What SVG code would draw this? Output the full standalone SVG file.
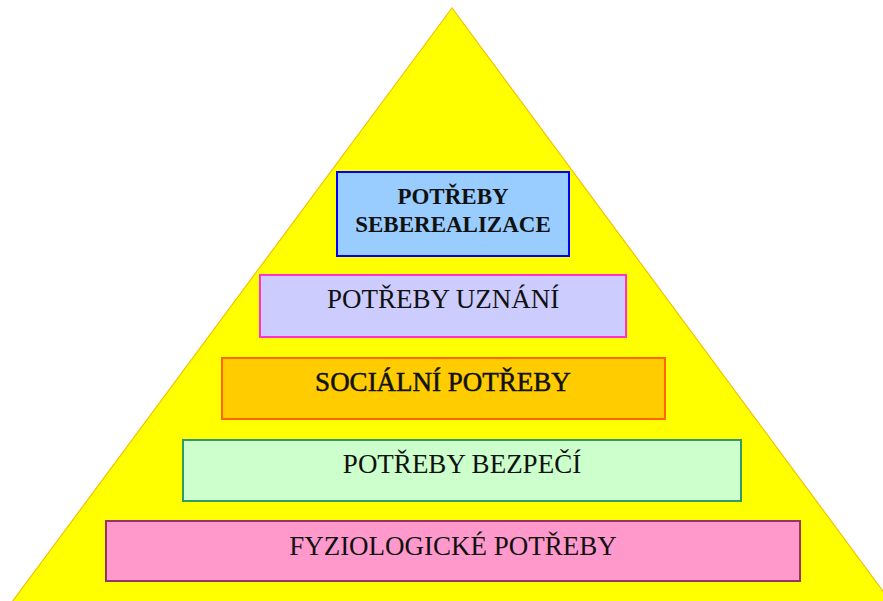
<svg xmlns="http://www.w3.org/2000/svg" width="883" height="601" viewBox="0 0 883 601">
<style>
.t{font-family:"Liberation Serif","Times New Roman",serif;font-size:27px;fill:#111;text-anchor:middle}
.b{font-weight:bold;font-size:23px}
.sb{stroke:#111;stroke-width:0.5}
.box{stroke-width:2}
</style>
<rect x="0" y="0" width="883" height="601" fill="#ffffff"/>
<polygon id="pyramid" points="452,8 12,602 891,602" fill="#ffff00" stroke="#f2c200" stroke-width="1.2"/>
<g id="connectors"></g>
<g id="n1">
<rect class="box" x="337" y="172" width="232" height="84" fill="#99ccff" stroke="#0000ff"/>
<text class="t b" x="453" y="204">POTŘEBY</text>
<text class="t b" x="453" y="232">SEBEREALIZACE</text>
</g>
<g id="n2">
<rect class="box" x="260" y="275" width="366" height="62" fill="#ccccff" stroke="#ff33cc"/>
<text class="t" x="443" y="308">POTŘEBY UZNÁNÍ</text>
</g>
<g id="n3">
<rect class="box" x="222" y="358" width="443" height="61" fill="#ffcc00" stroke="#ff6600"/>
<text class="t sb" x="443" y="391">SOCIÁLNÍ POTŘEBY</text>
</g>
<g id="n4">
<rect class="box" x="183" y="440" width="558" height="61" fill="#ccffcc" stroke="#339966"/>
<text class="t" x="462" y="473">POTŘEBY BEZPEČÍ</text>
</g>
<g id="n5">
<rect class="box" x="106" y="521" width="694" height="60" fill="#ff99cc" stroke="#993366"/>
<text class="t" x="453" y="555">FYZIOLOGICKÉ POTŘEBY</text>
</g>
</svg>
